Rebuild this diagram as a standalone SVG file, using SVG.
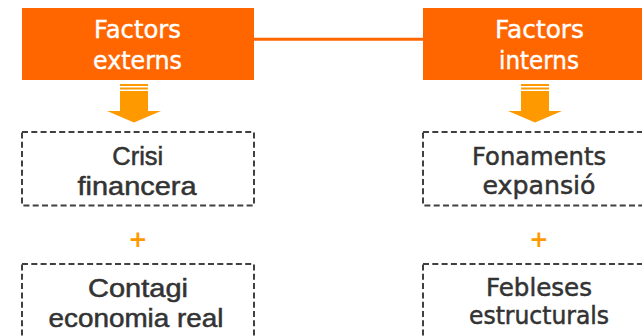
<svg xmlns="http://www.w3.org/2000/svg" width="642" height="336" viewBox="0 0 642 336">
<defs>
<style>
.hdr{fill:#FF6600}
.htxt{fill:#FFFFFF;stroke:#FFFFFF;stroke-width:0.4;font-family:"DejaVu Sans",sans-serif;font-size:24px;text-anchor:middle}
.box{fill:#FFFFFF;stroke:#404040;stroke-width:2;stroke-dasharray:6 3.3}
.ltxt{fill:#333333;stroke:#333333;stroke-width:0.5;font-family:"Liberation Sans",Arial,sans-serif;font-size:25px;text-anchor:middle}
.rtxt{fill:#333333;stroke:#333333;stroke-width:0.5;font-family:"DejaVu Sans",sans-serif;font-size:24px;text-anchor:middle}
.plus{fill:#FF9900;font-family:"DejaVu Sans",sans-serif;font-weight:bold;font-size:23px;text-anchor:middle}
.arr{fill:#FF9900}
.conn{stroke:#FF6600;stroke-width:3;fill:none}
</style>
</defs>
<rect width="642" height="336" fill="#FFFFFF"/>
<g id="connectors">
<line class="conn" x1="254" y1="39.2" x2="423" y2="39.2"/>
<g id="arrow-left" class="arr">
<rect x="120" y="84" width="28" height="2"/>
<rect x="120" y="87.5" width="28" height="2"/>
<polygon points="120,91 148,91 148,111 161,111 134,122.5 107,111 120,111"/>
</g>
<g id="arrow-right" class="arr">
<rect x="521" y="84" width="28" height="2"/>
<rect x="521" y="87.5" width="28" height="2"/>
<polygon points="521,91 549,91 549,111 562,111 535,122.5 508,111 521,111"/>
</g>
</g>
<g id="factors-externs">
<rect class="hdr" x="22" y="8" width="232" height="72"/>
<text class="htxt" x="137.5" y="37.7" textLength="87" lengthAdjust="spacingAndGlyphs">Factors</text>
<text class="htxt" x="137.5" y="69.3" textLength="89" lengthAdjust="spacingAndGlyphs">externs</text>
</g>
<g id="factors-interns">
<rect class="hdr" x="423" y="8" width="232" height="72"/>
<text class="htxt" x="539.5" y="37.7" textLength="89" lengthAdjust="spacingAndGlyphs">Factors</text>
<text class="htxt" x="539" y="69.3" textLength="80" lengthAdjust="spacingAndGlyphs">interns</text>
</g>
<g id="crisi-financera">
<rect class="box" x="22" y="132" width="232" height="73.5"/>
<text class="ltxt" x="137.8" y="165" textLength="51" lengthAdjust="spacingAndGlyphs">Crisi</text>
<text class="ltxt" x="137" y="195" textLength="119" lengthAdjust="spacingAndGlyphs">financera</text>
</g>
<g id="plus-left">
<text class="plus" x="138" y="246.5">+</text>
</g>
<g id="contagi-economia-real">
<rect class="box" x="22" y="264" width="232" height="73.5"/>
<text class="ltxt" x="138" y="297.3" textLength="100" lengthAdjust="spacingAndGlyphs">Contagi</text>
<text class="ltxt" x="136" y="326.7" textLength="175" lengthAdjust="spacingAndGlyphs">economia real</text>
</g>
<g id="fonaments-expansio">
<rect class="box" x="423" y="132" width="232" height="73.5"/>
<text class="rtxt" x="539" y="165" textLength="134" lengthAdjust="spacingAndGlyphs">Fonaments</text>
<text class="rtxt" x="539" y="194" textLength="113" lengthAdjust="spacingAndGlyphs">expansió</text>
</g>
<g id="plus-right">
<text class="plus" x="539" y="246.5">+</text>
</g>
<g id="febleses-estructurals">
<rect class="box" x="423" y="264" width="232" height="73.5"/>
<text class="rtxt" x="539" y="295.7" textLength="106" lengthAdjust="spacingAndGlyphs">Febleses</text>
<text class="rtxt" x="539" y="324.3" textLength="140" lengthAdjust="spacingAndGlyphs">estructurals</text>
</g>
</svg>
